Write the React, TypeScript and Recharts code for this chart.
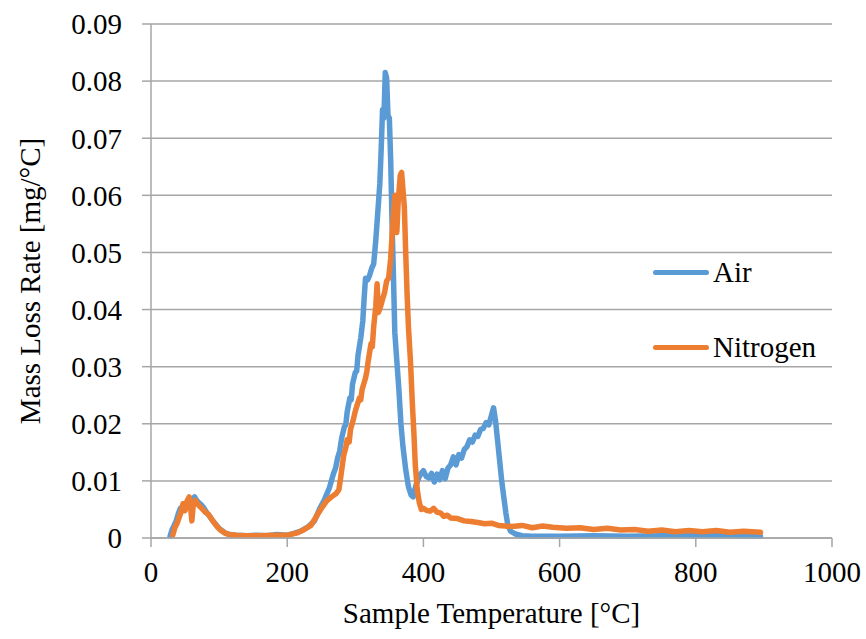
import { LineChart, Line, XAxis, YAxis, CartesianGrid, Label } from 'recharts';

const airTemp = [
  28, 31, 34, 37, 40, 43, 46, 49, 52, 55, 58, 61, 64, 67, 70, 74, 78, 82, 86, 90, 95, 100, 105, 110, 116, 125, 140,
  155, 170, 185, 200, 210, 220, 230, 240, 248, 255, 262, 268, 271, 274, 277, 280, 284, 286, 288, 292, 294, 296, 300,
  302, 304, 308, 311, 313, 315, 318, 321, 324, 327, 330, 333, 336, 338, 340, 342, 344, 346, 348, 350, 352, 354, 356,
  358, 361, 364, 367, 370, 374, 378, 382, 385, 389, 393, 396, 400, 404, 408, 412, 416, 420, 424, 428, 432, 436, 440,
  444, 448, 452, 456, 460, 464, 468, 472, 476, 480, 484, 488, 492, 496, 500, 503, 506, 509, 512, 515, 518, 521, 524,
  528, 535, 545, 560, 600, 650, 700, 750, 800, 850, 895,
];
const airRate = [
  0.0003, 0.0015, 0.0022, 0.003, 0.0042, 0.0052, 0.0048, 0.0058, 0.0055, 0.0064, 0.006, 0.0068, 0.0072, 0.0066, 0.0062,
  0.0058, 0.0052, 0.0044, 0.0038, 0.0031, 0.0024, 0.0017, 0.0012, 0.0008, 0.0006, 0.0005, 0.0004, 0.0005, 0.0004,
  0.0006, 0.0005, 0.0008, 0.0012, 0.0019, 0.003, 0.0052, 0.0068, 0.0088, 0.0113, 0.0122, 0.014, 0.0152, 0.0175, 0.0195,
  0.0198, 0.022, 0.0245, 0.0242, 0.027, 0.029, 0.0292, 0.032, 0.035, 0.038, 0.042, 0.0455, 0.0452, 0.046, 0.0472,
  0.048, 0.052, 0.057, 0.062, 0.068, 0.075, 0.0735, 0.0815, 0.0805, 0.074, 0.0735, 0.066, 0.055, 0.046, 0.036, 0.031,
  0.026, 0.02, 0.016, 0.012, 0.009, 0.0075, 0.0072, 0.0092, 0.0105, 0.0112, 0.0118, 0.0108, 0.0105, 0.0113, 0.0098,
  0.0112, 0.0102, 0.0118, 0.0104, 0.0122, 0.0128, 0.0142, 0.0128, 0.0146, 0.014, 0.0155, 0.016, 0.0172, 0.0168, 0.018,
  0.0178, 0.019, 0.0192, 0.0202, 0.0198, 0.0215, 0.0228, 0.0205, 0.017, 0.0135, 0.01, 0.0072, 0.0045, 0.0022, 0.0012,
  0.0007, 0.0004, 0.0003, 0.0003, 0.0004, 0.0003, 0.0004, 0.0004, 0.0004, 0.0003,
];

const n2Temp = [
  32, 35, 38, 41, 44, 47, 50, 53, 56, 58, 60, 62, 65, 68, 72, 76, 80, 84, 88, 92, 97, 102, 108, 115, 125, 140, 160,
  180, 200, 215, 225, 235, 245, 252, 258, 265, 272, 276, 279, 283, 286, 288, 291, 293, 297, 300, 302, 306, 308, 310,
  315, 317, 319, 323, 325, 327, 330, 332, 334, 337, 340, 343, 346, 349, 352, 355, 358, 361, 363, 366, 368, 370, 372,
  374, 376, 378, 381, 384, 386, 388, 391, 394, 397, 400, 405, 410, 415, 420, 425, 430, 435, 440, 450, 460, 470, 480,
  490, 500, 510, 520, 530, 545, 560, 575, 590, 610, 630, 650, 670, 690, 710, 730, 750, 770, 790, 810, 830, 850, 870,
  895,
];
const n2Rate = [
  0.0005, 0.0018, 0.0025, 0.0035, 0.0045, 0.006, 0.0048, 0.0065, 0.0072, 0.0055, 0.003, 0.0058, 0.0066, 0.006, 0.0055,
  0.005, 0.0045, 0.0042, 0.0035, 0.0028, 0.002, 0.0014, 0.0009, 0.0006, 0.0005, 0.0004, 0.0004, 0.0005, 0.0005, 0.0009,
  0.0015, 0.0022, 0.0042, 0.0055, 0.0065, 0.0072, 0.0078, 0.0085, 0.011, 0.0145, 0.0158, 0.0172, 0.0168, 0.019, 0.0207,
  0.0222, 0.023, 0.0245, 0.0242, 0.026, 0.028, 0.0292, 0.031, 0.034, 0.0335, 0.037, 0.0405, 0.0445, 0.0395, 0.0405,
  0.0418, 0.043, 0.045, 0.0455, 0.049, 0.055, 0.06, 0.0535, 0.059, 0.0635, 0.064, 0.061, 0.058, 0.05, 0.0429, 0.037,
  0.031, 0.023, 0.0185, 0.013, 0.0084, 0.0062, 0.005, 0.0052, 0.0048, 0.0047, 0.0052, 0.0045, 0.0044, 0.0038, 0.004,
  0.0035, 0.0034, 0.003, 0.0029, 0.0027, 0.0025, 0.0026, 0.0022, 0.0021, 0.002, 0.0022, 0.0018, 0.0021, 0.0019, 0.0017,
  0.0018, 0.0015, 0.0017, 0.0014, 0.0015, 0.0012, 0.0014, 0.0011, 0.0013, 0.0011, 0.0013, 0.001, 0.0012, 0.001,
];

const xTicks = [0, 200, 400, 600, 800, 1000];
const yTicks = [0, 0.01, 0.02, 0.03, 0.04, 0.05, 0.06, 0.07, 0.08, 0.09];

const airData = airTemp.map((t, i) => ({ temp: t, rate: airRate[i] }));
const n2Data = n2Temp.map((t, i) => ({ temp: t, rate: n2Rate[i] }));

const FONT = "'Liberation Serif', 'Times New Roman', Times, serif";
const GRAY = '#a6a6a6';
const AIR = '#5b9bd5';
const N2 = '#ed7d31';

const tickStyle = { fontFamily: FONT, fontSize: 29, fill: '#000' };

export default function App() {
  return (
    <div style={{ position: 'absolute', left: 0, top: 0, width: 866, height: 639, background: '#fff', fontFamily: FONT }}>
      <LineChart width={866} height={639} margin={{ top: 24, right: 34, bottom: 41, left: 0 }} style={{ fontFamily: FONT }}>
        <CartesianGrid vertical={false} stroke={GRAY} strokeWidth={1.5} />
        <XAxis
          type="number"
          dataKey="temp"
          domain={[0, 1000]}
          ticks={xTicks}
          height={60}
          stroke={GRAY}
          strokeWidth={1.5}
          tickSize={9}
          tickMargin={14}
          tick={tickStyle}
          allowDuplicatedCategory={false}
        >
          <Label value="Sample Temperature [°C]" position="bottom" offset={0} dy={4} style={tickStyle} />
        </XAxis>
        <YAxis
          type="number"
          domain={[0, 0.09]}
          ticks={yTicks}
          width={151}
          stroke={GRAY}
          strokeWidth={1.5}
          tickSize={9}
          tickMargin={20}
          tick={tickStyle}
          tickFormatter={(v: number) => (v === 0 ? '0' : v.toFixed(2))}
        >
          <Label
            value="Mass Loss Rate [mg/°C]"
            angle={-90}
            position="insideLeft"
            offset={30}
            style={{ ...tickStyle, textAnchor: 'middle' }}
          />
        </YAxis>
        <Line
          data={airData}
          dataKey="rate"
          type="linear"
          stroke={AIR}
          strokeWidth={5.5}
          strokeLinejoin="round"
          strokeLinecap="round"
          dot={false}
          activeDot={false}
          isAnimationActive={false}
        />
        <Line
          data={n2Data}
          dataKey="rate"
          type="linear"
          stroke={N2}
          strokeWidth={5.5}
          strokeLinejoin="round"
          strokeLinecap="round"
          dot={false}
          activeDot={false}
          isAnimationActive={false}
        />
      </LineChart>
      {/* legend sits inside the plot, over the gridlines */}
      {[
        { name: 'Air', color: AIR, y: 272 },
        { name: 'Nitrogen', color: N2, y: 347 },
      ].map((item) => (
        <div key={item.name} style={{ position: 'absolute', left: 653, top: item.y - 20, height: 40, display: 'flex', alignItems: 'center' }}>
          <div style={{ width: 56, height: 5, borderRadius: 3, background: item.color }} />
          <span style={{ fontFamily: FONT, fontSize: 29, marginLeft: 4, lineHeight: '40px' }}>{item.name}</span>
        </div>
      ))}
    </div>
  );
}
